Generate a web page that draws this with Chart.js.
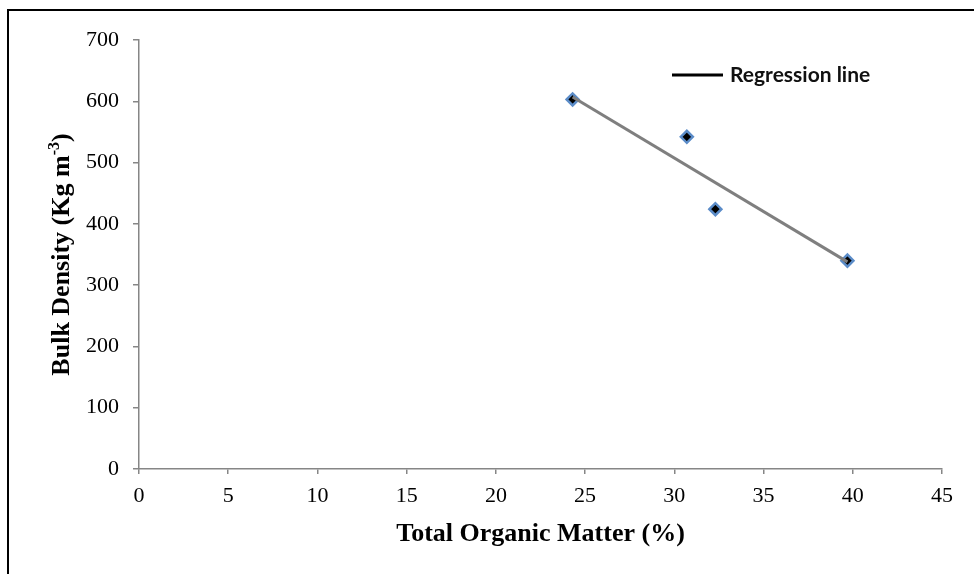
<!DOCTYPE html>
<html>
<head>
<meta charset="utf-8">
<script src="https://cdn.jsdelivr.net/npm/chart.js@4.4.1/dist/chart.umd.min.js"></script>
<style>
    html, body { margin: 0; padding: 0; background: #fff; }
    #wrap { position: relative; width: 974px; height: 574px; overflow: hidden; }
    #frame {
        position: absolute; left: 7px; top: 9px; width: 1000px; height: 600px;
        border-left: 2px solid #000; border-top: 2px solid #000;
        pointer-events: none;
    }
</style>
</head>
<body>
<div id="wrap">
    <canvas id="chart" width="974" height="574"></canvas>
    <div id="frame"></div>
</div>
<script>
document.addEventListener('DOMContentLoaded', () => {

    // Measured samples
    const organicMatter = [24.3, 30.7, 32.3, 39.7];   // %
    const bulkDensity = [603, 542, 424, 340];         // Kg m-3

    // Fitted line end points
    const fitX = [24.3, 39.7];
    const fitY = [607, 338];

    // Axis ticks
    const xTicks = [0, 5, 10, 15, 20, 25, 30, 35, 40, 45];
    const yTicks = [0, 100, 200, 300, 400, 500, 600, 700];

    const axisGrey = '#868686';
    const serif = '"Liberation Serif", "Times New Roman", serif';

    // Axis titles drawn by hand so the y title can carry a superscript
    const titlesPlugin = {
        id: 'titles',
        afterDraw(chart) {
            const { ctx, chartArea } = chart;
            ctx.save();
            ctx.fillStyle = '#000';
            ctx.font = `bold 26px ${serif}`;
            ctx.textAlign = 'center';
            ctx.textBaseline = 'alphabetic';
            ctx.fillText('Total Organic Matter (%)', (chartArea.left + chartArea.right) / 2, 541);

            // y title, rotated
            const partA = 'Bulk Density (Kg m';
            const sup = '-3';
            const partB = ')';
            ctx.font = `bold 26px ${serif}`;
            const wA = ctx.measureText(partA).width;
            const wB = ctx.measureText(partB).width;
            ctx.font = `bold 16px ${serif}`;
            const wS = ctx.measureText(sup).width;
            const total = wA + wS + wB;
            const cy = (chartArea.top + chartArea.bottom) / 2;
            ctx.translate(69, cy);
            ctx.rotate(-Math.PI / 2);
            ctx.textAlign = 'left';
            let x = -total / 2;
            ctx.font = `bold 26px ${serif}`;
            ctx.fillText(partA, x, 0);
            x += wA;
            ctx.font = `bold 16px ${serif}`;
            ctx.fillText(sup, x, -10);
            x += wS;
            ctx.font = `bold 26px ${serif}`;
            ctx.fillText(partB, x, 0);
            ctx.restore();

            // legend entry
            ctx.save();
            ctx.strokeStyle = '#000';
            ctx.lineWidth = 3;
            ctx.beginPath();
            ctx.moveTo(672, 75);
            ctx.lineTo(723, 75);
            ctx.stroke();
            ctx.fillStyle = '#111';
            ctx.font = 'bold 21px Lato, "Liberation Sans", sans-serif';
            ctx.textBaseline = 'middle';
            ctx.fillText('Regression line', 730, 75);
            ctx.restore();
        }
    };

    const ctx = document.getElementById('chart').getContext('2d');

    new Chart(ctx, {
        type: 'scatter',
        data: {
            datasets: [
                {
                    label: 'Regression line',
                    data: fitX.map((x, i) => ({ x, y: fitY[i] })),
                    showLine: true,
                    borderColor: '#7f7f7f',
                    borderWidth: 3,
                    pointRadius: 0,
                    order: 0
                },
                {
                    label: 'Samples',
                    data: organicMatter.map((x, i) => ({ x, y: bulkDensity[i] })),
                    pointStyle: 'rectRot',
                    pointRadius: 6,
                    backgroundColor: '#000',
                    borderColor: '#5b8cc8',
                    borderWidth: 2.5,
                    order: 1
                }
            ]
        },
        options: {
            responsive: false,
            animation: false,
            devicePixelRatio: 1,
            layout: { padding: { left: 0, top: 40, right: 32, bottom: 0 } },
            plugins: {
                legend: { display: false },
                tooltip: { enabled: false }
            },
            scales: {
                x: {
                    type: 'linear',
                    min: 0,
                    max: 45,
                    afterBuildTicks: (scale) => { scale.ticks = xTicks.map(v => ({ value: v })); },
                    afterFit: (scale) => { scale.height = 105; },
                    grid: { drawOnChartArea: false, drawTicks: true, tickLength: 5, color: axisGrey, lineWidth: 1.5 },
                    border: { display: true, color: axisGrey, width: 1.5 },
                    ticks: { color: '#000', padding: 9, font: { family: serif, size: 22 } }
                },
                y: {
                    type: 'linear',
                    min: 0,
                    max: 700,
                    afterBuildTicks: (scale) => { scale.ticks = yTicks.map(v => ({ value: v })); },
                    afterFit: (scale) => { scale.width = 139; },
                    grid: { drawOnChartArea: false, drawTicks: true, tickLength: 6, color: axisGrey, lineWidth: 1.5 },
                    border: { display: true, color: axisGrey, width: 1.5 },
                    ticks: { color: '#000', padding: 14, font: { family: serif, size: 22 } }
                }
            }
        },
        plugins: [titlesPlugin]
    });
});
</script>
</body>
</html>
